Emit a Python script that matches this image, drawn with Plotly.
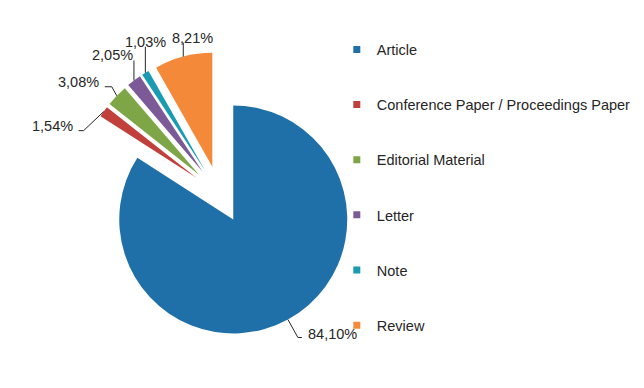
import math
import plotly.graph_objects as go

# ---- data ----
categories = ["Article", "Conference Paper / Proceedings Paper", "Editorial Material",
              "Letter", "Note", "Review"]
percentages = [84.10, 1.54, 3.08, 2.05, 1.03, 8.21]
pct_labels = ["84,10%", "1,54%", "3,08%", "2,05%", "1,03%", "8,21%"]

# ---- style ----
colors = ["#1F70A8", "#C2403B", "#7EA646", "#7C5A97", "#1A9BB4", "#F5893A"]
W, H = 644, 388
CX, CY, R = 219.6, 194.4, 114.0   # pie centre (px) and radius (px)
PULL = 0.25
FONT = "Arial, Liberation Sans, sans-serif"
TXT = "#262626"

# leader line: elbow offset from slice edge, then horizontal run; label anchor
# (elbow_dx, elbow_dy, run_dx, text_dx, text_dy, xanchor)
label_style = [
    (10, 18, 4, 4, -3, "left"),
    (-20, 19, -5, -4, -5, "right"),
    (-5, -9, -7, -4, -5, "right"),
    (0, -20, 0, 1, -6, "right"),
    (0, -26, 0, 0, -5, "center"),
    (0, -14, 0, 9, -5, "center"),
]

box = R * (1 + PULL)
dom_y = [1 - (CY + box) / H, 1 - (CY - box) / H]
dom_x = [(CX - box) / W, (CX + box) / W]

fig = go.Figure()
fig.add_trace(go.Pie(
    labels=categories, values=percentages, sort=False, direction="clockwise",
    rotation=0, pull=[PULL] * len(percentages), textinfo="none", hoverinfo="label+percent",
    marker=dict(colors=colors, line=dict(width=0)),
    domain=dict(x=dom_x, y=dom_y), showlegend=False,
))

# legend entries
for i, (c, col) in enumerate(zip(categories, colors)):
    fig.add_trace(go.Scatter(x=[None], y=[None], mode="markers", name=c,
                             legendgroup=f"g{i}",
                             marker=dict(symbol="square", size=7, color=col)))

def px2paper(x, y):
    return x / W, 1 - y / H

total = sum(percentages)
cum = 0.0
shapes, annotations = [], []
for v, lab, st in zip(percentages, pct_labels, label_style):
    mid = (cum + v / 2) / total * 2 * math.pi
    cum += v
    s, c = math.sin(mid), math.cos(mid)
    ox, oy = CX + (R * PULL + R) * s, CY - (R * PULL + R) * c
    ex, ey, run, tdx, tdy, anc = st
    e1 = (ox + ex, oy + ey)
    e2 = (e1[0] + run, e1[1])
    pts = [px2paper(ox, oy), px2paper(*e1), px2paper(*e2)]
    path = "M {} {} L {} {} L {} {}".format(*[f"{p:.5f}" for pt in pts for p in pt])
    shapes.append(dict(type="path", xref="paper", yref="paper", path=path,
                       line=dict(color="#262626", width=1)))
    tx, ty = px2paper(e2[0] + tdx, e2[1] + tdy)
    annotations.append(dict(x=tx, y=ty, xref="paper", yref="paper", text=lab,
                            showarrow=False, xanchor=anc, yanchor="middle",
                            font=dict(family=FONT, size=14.5, color=TXT)))

fig.update_layout(
    width=W, height=H, margin=dict(l=0, r=0, t=0, b=0),
    paper_bgcolor="white", plot_bgcolor="white",
    xaxis=dict(visible=False), yaxis=dict(visible=False),
    shapes=shapes, annotations=annotations,
    legend=dict(x=0.523, y=0.9137, xanchor="left", yanchor="top", traceorder="grouped",
                tracegroupgap=33.3, font=dict(family=FONT, size=14.5, color=TXT),
                bgcolor="rgba(0,0,0,0)"),
)
fig.write_html("out.html", config={"displayModeBar": False},
               post_script="document.body.style.margin='0';")
